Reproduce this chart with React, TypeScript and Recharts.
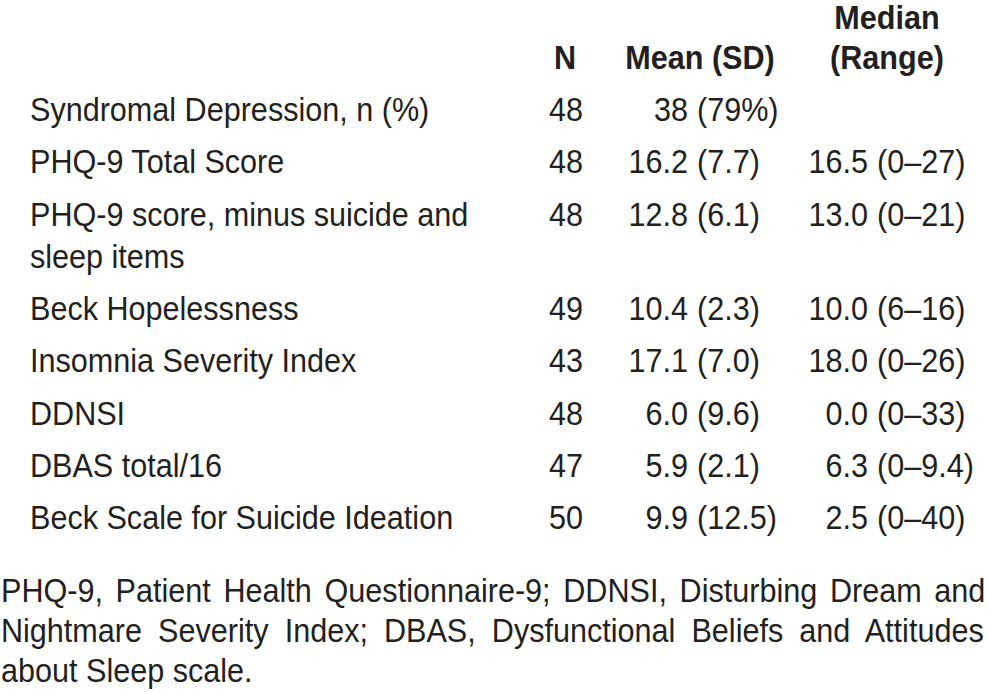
import React from 'react';
import { ScatterChart, Scatter, XAxis, YAxis } from 'recharts';

// ---- table content ----
const headerTop = ['Median'];
const headerBottom = ['N', 'Mean (SD)', '(Range)'];
const measures: string[][] = [
  ['Syndromal Depression, n (%)'],
  ['PHQ-9 Total Score'],
  ['PHQ-9 score, minus suicide and', 'sleep items'],
  ['Beck Hopelessness'],
  ['Insomnia Severity Index'],
  ['DDNSI'],
  ['DBAS total/16'],
  ['Beck Scale for Suicide Ideation'],
];
const nValues = [48, 48, 48, 49, 43, 48, 47, 50];
const meanValues = ['38', '16.2', '12.8', '10.4', '17.1', '6.0', '5.9', '9.9'];
const sdValues = ['(79%)', '(7.7)', '(6.1)', '(2.3)', '(7.0)', '(9.6)', '(2.1)', '(12.5)'];
const medianValues = ['', '16.5', '13.0', '10.0', '18.0', '0.0', '6.3', '2.5'];
const rangeValues = ['', '(0–27)', '(0–21)', '(6–16)', '(0–26)', '(0–33)', '(0–9.4)', '(0–40)'];
const footnoteLines = [
  'PHQ-9, Patient Health Questionnaire-9; DDNSI, Disturbing Dream and',
  'Nightmare Severity Index; DBAS, Dysfunctional Beliefs and Attitudes',
  'about Sleep scale.',
];

// ---- layout ----
const W = 987;
const H = 692;
const FONT = "'Liberation Sans', Arial, sans-serif";
const FS = 33;
const SX = 0.927;
const COLOR = '#231f20';
const firstRowY = 121;
const rowStep = 52.3;
const lineStep = 42;
const labelX = 30;
const nX = 566;
const meanRight = 688;
const medianRight = 868;
const gap = 9;
const headerX = [565, 700, 887];
const headerTopY = 29;
const headerBottomY = 69;
const footFirstY = 602;
const footStep = 40;
const footX = 1;
const footWidth = 985;

let measureCtx: CanvasRenderingContext2D | null = null;
function textWidth(s: string) {
  if (!measureCtx) {
    const c = document.createElement('canvas');
    measureCtx = c.getContext('2d');
  }
  if (!measureCtx) return s.length * FS * 0.5;
  measureCtx.font = `${FS}px ${FONT}`;
  return measureCtx.measureText(s).width;
}

// build rows
const rowY: number[] = [];
{
  let extra = 0;
  measures.forEach((m, i) => {
    rowY.push(firstRowY + i * rowStep + extra * lineStep);
    extra += m.length - 1;
  });
}

const labelData = measures.flatMap((m, i) =>
  m.map((line, j) => ({ x: labelX, y: rowY[i] + j * lineStep, text: line, anchor: 'start' }))
);
const nData = nValues.map((v, i) => ({ x: nX, y: rowY[i], text: String(v), anchor: 'middle' }));
const meanData = meanValues.map((v, i) => ({ x: meanRight, y: rowY[i], text: v, anchor: 'end' }));
const sdData = sdValues.map((v, i) => ({ x: meanRight + gap, y: rowY[i], text: v, anchor: 'start' }));
const medianData = medianValues
  .map((v, i) => ({ x: medianRight, y: rowY[i], text: v, anchor: 'end' }))
  .filter((d) => d.text !== '');
const rangeData = rangeValues
  .map((v, i) => ({ x: medianRight + gap, y: rowY[i], text: v, anchor: 'start' }))
  .filter((d) => d.text !== '');
const headerData = [
  ...headerTop.map((t) => ({ x: headerX[2], y: headerTopY, text: t, anchor: 'middle', bold: true })),
  ...headerBottom.map((t, i) => ({ x: headerX[i], y: headerBottomY, text: t, anchor: 'middle', bold: true })),
];
const footData = footnoteLines.map((t, i) => ({
  x: footX,
  y: footFirstY + i * footStep,
  text: t,
  anchor: 'start',
  justify: i < footnoteLines.length - 1,
}));

const TextShape = (props: any) => {
  const { cx, cy, payload } = props;
  let wordSpacing: number | undefined;
  if (payload.justify) {
    const spaces = (payload.text.match(/ /g) || []).length;
    const w = textWidth(payload.text);
    wordSpacing = spaces > 0 ? (footWidth / SX - w) / spaces : 0;
  }
  return (
    <text
      x={0}
      y={0}
      transform={`translate(${cx},${cy}) scale(${SX},1)`}
      textAnchor={payload.anchor}
      fill={COLOR}
      fontFamily={FONT}
      fontSize={FS}
      fontWeight={payload.bold ? 'bold' : 'normal'}
      style={wordSpacing !== undefined ? { wordSpacing: `${wordSpacing}px` } : undefined}
    >
      {payload.text}
    </text>
  );
};

export default function App() {
  return (
    <div style={{ position: 'absolute', left: 0, top: 0, background: '#fff' }}>
      <ScatterChart width={W} height={H} margin={{ top: 0, right: 0, bottom: 0, left: 0 }}>
        <XAxis type="number" dataKey="x" domain={[0, W]} hide />
        <YAxis type="number" dataKey="y" domain={[0, H]} reversed hide />
        <Scatter data={headerData} shape={<TextShape />} isAnimationActive={false} />
        <Scatter data={labelData} shape={<TextShape />} isAnimationActive={false} />
        <Scatter data={nData} shape={<TextShape />} isAnimationActive={false} />
        <Scatter data={meanData} shape={<TextShape />} isAnimationActive={false} />
        <Scatter data={sdData} shape={<TextShape />} isAnimationActive={false} />
        <Scatter data={medianData} shape={<TextShape />} isAnimationActive={false} />
        <Scatter data={rangeData} shape={<TextShape />} isAnimationActive={false} />
        <Scatter data={footData} shape={<TextShape />} isAnimationActive={false} />
      </ScatterChart>
    </div>
  );
}
